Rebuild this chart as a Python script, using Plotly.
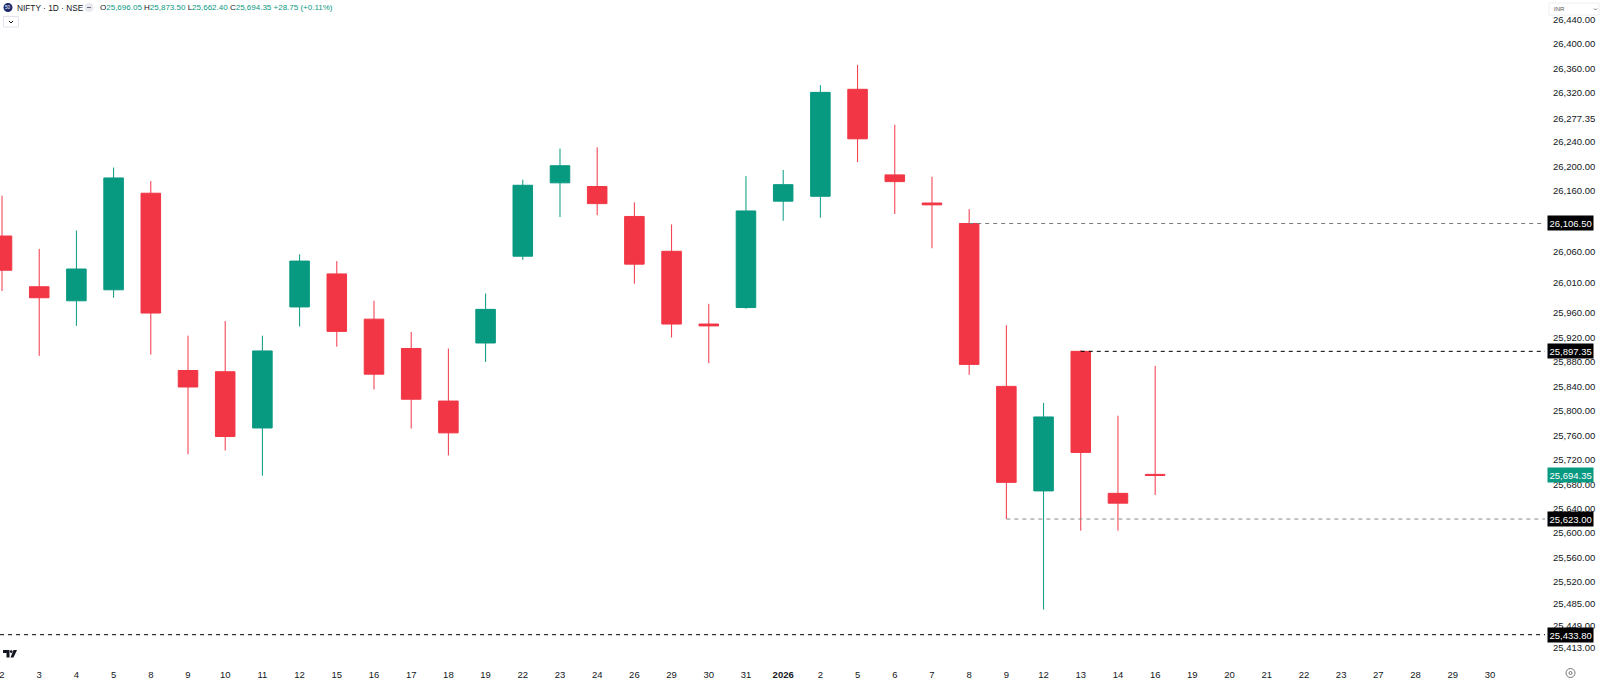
import plotly.graph_objects as go

# ---------------- data ----------------
day_labels = ["2", "3", "4", "5", "8", "9", "10", "11", "12", "15", "16", "17", "18", "19",
              "22", "23", "24", "26", "29", "30", "31", "2026",
              "2", "5", "6", "7", "8", "9", "12", "13", "14", "16",
              "19", "20", "21", "22", "23", "27", "28", "29", "30"]

opens = [26086, 26003, 25980, 25998, 26156, 25866, 25864, 25772, 25970, 26024, 25950, 25902,
         25816, 25911, 26053, 26173, 26167, 26118, 26061, 25942, 25969, 26143,
         26151, 26326, 26186, 26140, 26106.50, 25840, 25669, 25897.35, 25665, 25696.05]
highs = [26152, 26065, 26095, 26198, 26176, 25923, 25947, 25923, 26056, 26045, 25980, 25929,
         25902, 25992, 26178, 26229, 26231, 26141, 26105, 25975, 26184, 26194,
         26333, 26366, 26268, 26183, 26130, 25940, 25813, 25899, 25792, 25873.50]
lows = [25996, 25890, 25939, 25985, 25892, 25729, 25735, 25694, 25938, 25905, 25835, 25771,
        25727, 25880, 26047, 26117, 26120, 26008, 25920, 25878, 25967, 26111,
        26116, 26207, 26122, 26066, 25859, 25623, 25475, 25604, 25604, 25662.40]
closes = [26030, 25985, 26032, 26181, 25960, 25839, 25758, 25898, 26045, 25930, 25860, 25819,
          25764, 25966, 26169, 26201, 26139, 26040, 25942, 25939, 26127, 26170,
          26321, 26245, 26175, 26137, 25876, 25683, 25790, 25732, 25649, 25694.35]

y_tick_values = [26440, 26400, 26360, 26320, 26277.35, 26240, 26200, 26160, 26060, 26010,
                 25960, 25920, 25880, 25840, 25800, 25760, 25720, 25680, 25640, 25600,
                 25560, 25520, 25485, 25449, 25413]

level_prices = [26106.50, 25897.35, 25623.00, 25433.80]
level_start = [26, 29, 27, None]          # candle index where the line starts
level_colors = ["#7b7b7b", "#000000", "#8a8a8a", "#000000"]

symbol_title = "NIFTY · 1D · NSE"
change_text = "+28.75 (+0.11%)"

# ---------------- style ----------------
GREEN = "#089981"
RED = "#F23645"
TXT = "#131722"
FONT = "Liberation Sans, Arial, sans-serif"

W, H = 1600, 683
MR, MB = 55, 22
PW, PH = W - MR, H - MB          # plot area size in px


def xp(px):
    return px / PW


def yp(py):
    return 1 - py / PH


x_idx = list(range(len(opens)))
all_idx = list(range(len(day_labels)))

fig = go.Figure()
fig.add_trace(go.Candlestick(
    x=x_idx, open=opens, high=highs, low=lows, close=closes,
    increasing=dict(line=dict(color=GREEN, width=1), fillcolor=GREEN),
    decreasing=dict(line=dict(color=RED, width=1), fillcolor=RED),
    whiskerwidth=0, hoverinfo="skip", showlegend=False,
))

x_min, x_max = -0.054, 41.48
price_top = 26472.1
price_per_px = 1.6359
price_bot = price_top - PH * price_per_px

shapes = []
annotations = []

# key horizontal levels
for price, start, col in zip(level_prices, level_start, level_colors):
    x0 = x_min if start is None else start
    shapes.append(dict(type="line", xref="x", yref="y", x0=x0, x1=x_max, y0=price, y1=price,
                       line=dict(color=col, width=1, dash="4px,4px")))
    annotations.append(dict(xref="paper", yref="y", x=xp(1547.5), y=price, xanchor="left",
                            yanchor="middle", text=f"{price:,.2f}", showarrow=False,
                            font=dict(color="white", size=9.5, family=FONT),
                            bgcolor="#000000", borderpad=1.5))

# last price label
last_close = closes[-1]
annotations.append(dict(xref="paper", yref="y", x=xp(1547.5), y=last_close, xanchor="left",
                        yanchor="middle", text=f"{last_close:,.2f}", showarrow=False,
                        font=dict(color="white", size=9.5, family=FONT),
                        bgcolor=GREEN, borderpad=1.5))

# header legend
shapes.append(dict(type="circle", xref="paper", yref="paper", x0=xp(3.5), x1=xp(12.5),
                   y0=yp(12), y1=yp(3), fillcolor="#1c2a6b", line=dict(width=0)))
annotations.append(dict(xref="paper", yref="paper", x=xp(8), y=yp(7.5), text="50",
                        showarrow=False, font=dict(color="white", size=4.5, family=FONT),
                        xanchor="center", yanchor="middle"))
annotations.append(dict(xref="paper", yref="paper", x=xp(14.5), y=yp(7.5), text=symbol_title,
                        showarrow=False, font=dict(color=TXT, size=8.3, family=FONT),
                        xanchor="left", yanchor="middle"))
shapes.append(dict(type="circle", xref="paper", yref="paper", x0=xp(84.5), x1=xp(93.5),
                   y0=yp(12), y1=yp(3), fillcolor="#e9eaee", line=dict(width=0)))
shapes.append(dict(type="line", xref="paper", yref="paper", x0=xp(87), x1=xp(91),
                   y0=yp(7.5), y1=yp(7.5), line=dict(color="#6a6d78", width=1)))


def gv(v):
    return f"<span style='color:{GREEN}'>{v:,.2f}</span>"


ohlc_text = (f"O{gv(opens[-1])} H{gv(highs[-1])} L{gv(lows[-1])} C{gv(closes[-1])} "
             f"<span style='color:{GREEN}'>{change_text}</span>")
annotations.append(dict(xref="paper", yref="paper", x=xp(97.5), y=yp(7.5), text=ohlc_text,
                        showarrow=False, font=dict(color=TXT, size=8.0, family=FONT),
                        xanchor="left", yanchor="middle"))
# collapse button
shapes.append(dict(type="rect", xref="paper", yref="paper", x0=xp(3.5), x1=xp(18.5),
                   y0=yp(27), y1=yp(16.5), line=dict(color="#e0e3eb", width=1),
                   fillcolor="white"))
shapes.append(dict(type="path", xref="paper", yref="paper",
                   path=f"M {xp(9)},{yp(21)} L {xp(11)},{yp(23)} L {xp(13)},{yp(21)}",
                   line=dict(color="#131722", width=1)))

# INR selector at top right
shapes.append(dict(type="rect", xref="paper", yref="paper", x0=xp(1549), x1=xp(1599),
                   y0=yp(15), y1=yp(3), line=dict(color="#eeeeee", width=1), fillcolor="white"))
annotations.append(dict(xref="paper", yref="paper", x=xp(1552), y=yp(9), text="INR",
                        showarrow=False, font=dict(color="#555", size=6, family=FONT),
                        xanchor="left", yanchor="middle"))
shapes.append(dict(type="path", xref="paper", yref="paper",
                   path=f"M {xp(1594)},{yp(8.5)} L {xp(1595.5)},{yp(10)} L {xp(1597)},{yp(8.5)}",
                   line=dict(color="#555", width=0.8)))

# settings icon bottom right
shapes.append(dict(type="circle", xref="paper", yref="paper", x0=xp(1566), x1=xp(1575),
                   y0=yp(677.5), y1=yp(668.5), line=dict(color="#555", width=0.8)))
shapes.append(dict(type="circle", xref="paper", yref="paper", x0=xp(1569), x1=xp(1572),
                   y0=yp(674.5), y1=yp(671.5), line=dict(color="#555", width=0.8)))

# TradingView logo (bottom left)
shapes.append(dict(type="path", xref="paper", yref="paper",
                   path=(f"M {xp(3)},{yp(650)} L {xp(9.5)},{yp(650)} L {xp(9.5)},{yp(657.5)} "
                         f"L {xp(6.5)},{yp(657.5)} L {xp(6.5)},{yp(653)} L {xp(3)},{yp(653)} Z"),
                   fillcolor="#131722", line=dict(width=0)))
shapes.append(dict(type="circle", xref="paper", yref="paper", x0=xp(9.8), x1=xp(12.6),
                   y0=yp(653), y1=yp(650.2), fillcolor="#131722", line=dict(width=0)))
shapes.append(dict(type="path", xref="paper", yref="paper",
                   path=(f"M {xp(13.5)},{yp(650)} L {xp(17)},{yp(650)} L {xp(13.5)},{yp(657.5)} "
                         f"L {xp(10.5)},{yp(657.5)} Z"),
                   fillcolor="#131722", line=dict(width=0)))

tick_text = [f"<b>{t}</b>" if t == "2026" else t for t in day_labels]

fig.update_layout(
    width=W, height=H,
    margin=dict(l=0, r=MR, t=0, b=MB),
    paper_bgcolor="white", plot_bgcolor="white",
    boxgap=0.25,
    showlegend=False,
    font=dict(family=FONT, color=TXT, size=9.5),
    shapes=shapes, annotations=annotations,
    xaxis=dict(range=[x_min, x_max], tickmode="array", tickvals=all_idx, ticktext=tick_text,
               showgrid=False, zeroline=False, showline=False, ticks="",
               rangeslider=dict(visible=False), tickangle=0, ticklabelstandoff=6,
               ticklabeloverflow="allow",
               tickfont=dict(size=9.5, color=TXT, family=FONT)),
    yaxis=dict(range=[price_bot, price_top], side="right", tickmode="array",
               tickvals=y_tick_values, ticktext=[f"{v:,.2f}" for v in y_tick_values],
               showgrid=False, zeroline=False, showline=False, ticks="",
               ticklabeloverflow="allow",
               ticklabelstandoff=7, tickfont=dict(size=9.5, color=TXT, family=FONT)),
)

fig.write_html("out.html", config={"displayModeBar": False},
               post_script="document.body.style.margin='0';")
